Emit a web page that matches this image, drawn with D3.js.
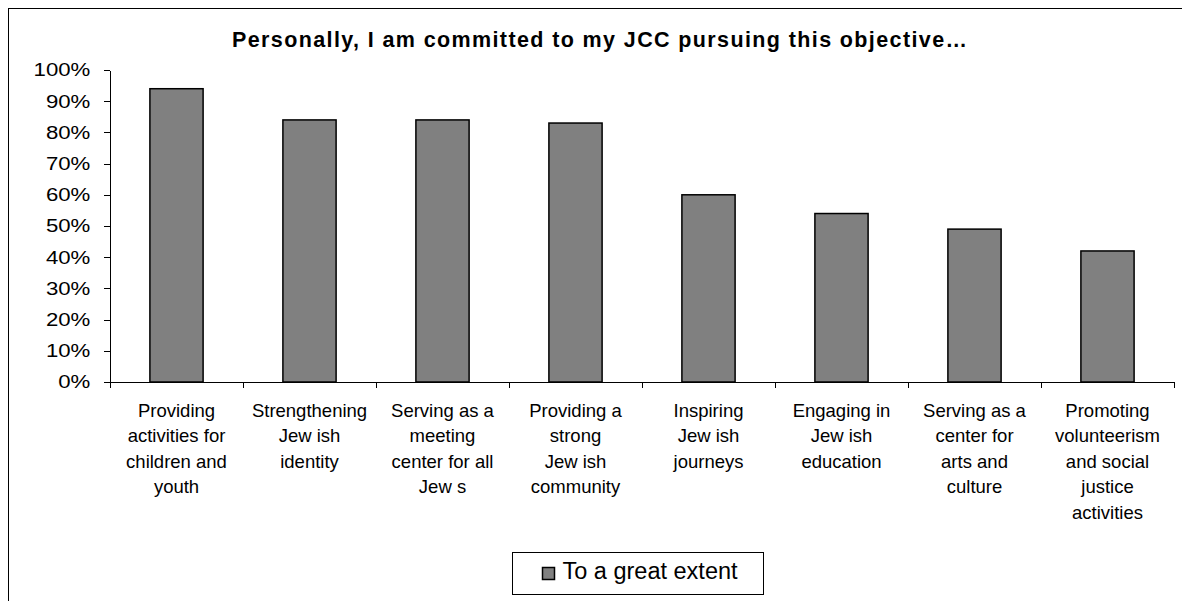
<!DOCTYPE html>
<meta charset="utf-8">
<style>

body {
  margin: 0;
  background: #fff;
  font-family: "Liberation Sans", Arial, sans-serif;
}

.axis path,
.axis line {
  fill: none;
  stroke: #000;
  shape-rendering: crispEdges;
}

.axis text {
  font-family: "Liberation Sans", Arial, sans-serif;
  font-size: 18.5px;
  fill: #000;
}

.bar {
  fill: #808080;
  stroke: #000;
  stroke-width: 1.5;
}

</style>
<body>
<script src="https://d3js.org/d3.v7.min.js"></script>
<script>

var title = "Personally, I am committed to my JCC pursuing this objective\u2026";
var seriesName = "To a great extent";

var categories = [
  "Providing activities for children and youth",
  "Strengthening Jewish identity",
  "Serving as a meeting center for all Jews",
  "Providing a strong Jewish community",
  "Inspiring Jewish journeys",
  "Engaging in Jewish education",
  "Serving as a center for arts and culture",
  "Promoting volunteerism and social justice activities"
];

// wrapped the way the picture shows them
var categoryLines = [
  ["Providing", "activities for", "children and", "youth"],
  ["Strengthening", "Jew ish", "identity"],
  ["Serving as a", "meeting", "center for all", "Jew s"],
  ["Providing a", "strong", "Jew ish", "community"],
  ["Inspiring", "Jew ish", "journeys"],
  ["Engaging in", "Jew ish", "education"],
  ["Serving as a", "center for", "arts and", "culture"],
  ["Promoting", "volunteerism", "and social", "justice", "activities"]
];

var values = [0.94, 0.84, 0.84, 0.83, 0.60, 0.54, 0.49, 0.42];

var yTicks = [0, 0.1, 0.2, 0.3, 0.4, 0.5, 0.6, 0.7, 0.8, 0.9, 1.0];

var width = 1182, height = 601;
var margin = {top: 70, right: 8, bottom: 219, left: 110};
var w = width - margin.left - margin.right,
    h = height - margin.top - margin.bottom;

var svg = d3.select("body").append("svg")
    .attr("width", width)
    .attr("height", height);

// outer frame (runs off the right and bottom edges)
svg.append("rect")
    .attr("x", 8.5)
    .attr("y", 8.5)
    .attr("width", width + 20)
    .attr("height", height + 20)
    .attr("fill", "none")
    .attr("stroke", "#000")
    .attr("stroke-width", 1);

svg.append("text")
    .attr("x", 232)
    .attr("y", 47)
    .attr("textLength", 735)
    .attr("lengthAdjust", "spacing")
    .style("font-size", "21.5px")
    .style("font-weight", "bold")
    .text(title);

var g = svg.append("g")
    .attr("transform", "translate(" + margin.left + "," + margin.top + ")");

var xb = d3.scaleBand()
    .domain(categories)
    .range([0, w]);

var y = d3.scaleLinear()
    .domain([0, 1])
    .range([h, 0]);

var yAxis = d3.axisLeft(y)
    .tickValues(yTicks)
    .tickFormat(d3.format(".0%"))
    .tickSize(6)
    .tickSizeOuter(0)
    .tickPadding(10.4);

g.append("g")
    .attr("class", "y axis")
    .call(yAxis)
  .selectAll(".tick text")
    .attr("transform", "scale(1.2,1)");

g.selectAll(".bar")
    .data(values)
  .enter().append("rect")
    .attr("class", "bar")
    .attr("x", function(d, i) { return xb(categories[i]) + xb.bandwidth() * 0.3; })
    .attr("width", xb.bandwidth() * 0.4)
    .attr("y", function(d) { return y(d); })
    .attr("height", function(d) { return h - y(d); });

// x axis: ticks sit between categories
var xAxis = g.append("g")
    .attr("class", "x axis")
    .attr("transform", "translate(0," + h + ")");

xAxis.append("line")
    .attr("x1", 0)
    .attr("x2", w)
    .attr("y1", 0)
    .attr("y2", 0);

xAxis.selectAll(".tick")
    .data(categories.concat(["end"]))
  .enter().append("line")
    .attr("class", "tick")
    .attr("x1", function(d, i) { return i * xb.bandwidth(); })
    .attr("x2", function(d, i) { return i * xb.bandwidth(); })
    .attr("y1", 0)
    .attr("y2", 6);

var labels = xAxis.selectAll(".label")
    .data(categoryLines)
  .enter().append("text")
    .attr("class", "label")
    .attr("text-anchor", "middle")
    .attr("transform", function(d, i) {
      return "translate(" + (xb(categories[i]) + xb.bandwidth() / 2) + ",35)";
    });

labels.selectAll("tspan")
    .data(function(d) { return d; })
  .enter().append("tspan")
    .attr("x", 0)
    .attr("y", function(d, i) { return i * 25.4; })
    .text(function(d) { return d; });

// legend
var legend = svg.append("g")
    .attr("transform", "translate(512.5,552.5)");

legend.append("rect")
    .attr("width", 251)
    .attr("height", 42)
    .attr("fill", "#fff")
    .attr("stroke", "#000");

legend.append("rect")
    .attr("x", 30)
    .attr("y", 15)
    .attr("width", 12)
    .attr("height", 12)
    .attr("fill", "#808080")
    .attr("stroke", "#000")
    .attr("stroke-width", 1.5);

legend.append("text")
    .attr("x", 50)
    .attr("y", 26.5)
    .style("font-size", "23.5px")
    .text(seriesName);

</script>
